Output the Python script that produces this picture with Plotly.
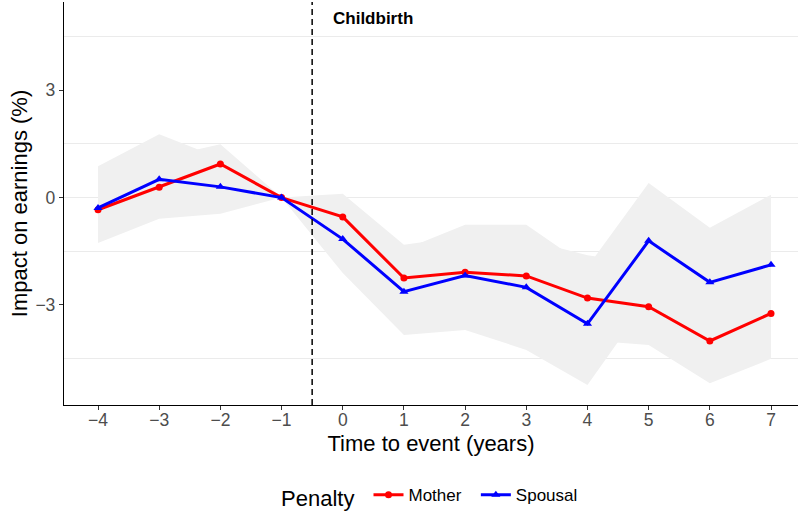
import plotly.graph_objects as go

years = [-4, -3, -2, -1, 0, 1, 2, 3, 4, 5, 6, 7]
mother = [-0.34, 0.29, 0.94, 0, -0.54, -2.25, -2.09, -2.19, -2.81, -3.05, -4.01, -3.24]
spousal = [-0.29, 0.51, 0.30, 0, -1.16, -2.63, -2.18, -2.51, -3.53, -1.21, -2.37, -1.88]
mother_hi = [0.40, 1.11, 1.49, 0, 0.11, -1.32, -1.08, -1.17, -1.61, -1.86, -2.83, -1.93]
mother_lo = [-1.00, -0.50, 0.37, 0, -1.17, -3.17, -3.08, -3.21, -3.99, -4.12, -5.19, -4.51]
spousal_hi = [0.88, 1.77, 1.10, 0, -0.19, -1.45, -0.76, -0.76, -1.94, 0.41, -0.84, 0.08]
spousal_lo = [-1.27, -0.59, -0.45, 0, -2.11, -3.84, -3.70, -4.26, -5.24, -2.83, -3.92, -3.84]
y_ticks = [-3, 0, 3]
y_minor = [-4.5, -1.5, 1.5, 4.5]
event_x = -0.5
event_label = "Childbirth"
label_y = 5.0

FONT = "Liberation Sans, Arial, sans-serif"
RIBBON = "#F0F0F0"
GRID = "#EBEBEB"
TICK_SIZE = 17.5
TITLE_SIZE = 22

fig = go.Figure()
for lo, hi in [(spousal_lo, spousal_hi), (mother_lo, mother_hi)]:
    fig.add_trace(go.Scatter(
        x=years + years[::-1], y=hi + lo[::-1], fill="toself",
        fillcolor=RIBBON, line=dict(width=0), mode="lines",
        showlegend=False, hoverinfo="skip"))

fig.add_trace(go.Scatter(
    x=years, y=mother, mode="lines+markers", name="Mother\u00a0\u00a0",
    line=dict(color="#FF0000", width=3),
    marker=dict(symbol="circle", size=7, color="#FF0000")))
fig.add_trace(go.Scatter(
    x=years, y=spousal, mode="lines+markers", name="Spousal",
    line=dict(color="#0000FF", width=3),
    marker=dict(symbol="triangle-up", size=8, color="#0000FF")))

fig.add_shape(type="line", xref="x", yref="paper", x0=event_x, x1=event_x,
              y0=0, y1=1, line=dict(color="black", width=1.5, dash="6px,4px"))
fig.add_annotation(x=event_x, y=label_y, xref="x", yref="y", text="<b>%s</b>" % event_label,
                   showarrow=False, xanchor="left", yanchor="middle", xshift=19,
                   font=dict(family=FONT, size=17, color="black"))

fig.update_layout(
    width=798, height=512,
    margin=dict(l=64, r=0, t=2, b=107, autoexpand=False),
    paper_bgcolor="white", plot_bgcolor="white",
    font=dict(family=FONT, color="black"),
    showlegend=True,
    legend=dict(orientation="h", x=0.5, xanchor="center", yref="container",
                y=0.03, yanchor="middle",
                title=dict(text="Penalty ", font=dict(size=TITLE_SIZE, color="black")),
                font=dict(size=17, color="black")),
    xaxis=dict(range=[-4.556, 7.441], tickvals=years, showgrid=False, zeroline=False,
               automargin=False,
               showline=True, linecolor="black", linewidth=1.3,
               ticks="outside", ticklen=4, tickcolor="#333333",
               ticklabelstandoff=-5,
               tickfont=dict(size=TICK_SIZE, color="#4D4D4D"),
               title=dict(text="Time to event (years)", font=dict(size=TITLE_SIZE, color="black"), standoff=6)),
    yaxis=dict(range=[-5.80, 5.47], tickvals=y_ticks, showgrid=False,
               automargin=False,
               zeroline=True, zerolinecolor=GRID, zerolinewidth=1,
               showline=True, linecolor="black", linewidth=1.3,
               ticks="outside", ticklen=4, tickcolor="#333333",
               tickfont=dict(size=TICK_SIZE, color="#4D4D4D"),
               minor=dict(tickvals=y_minor, showgrid=True, gridcolor=GRID, gridwidth=1, ticks=""),
               title=dict(text="Impact on earnings (%)", font=dict(size=TITLE_SIZE, color="black"), standoff=1)),
)

fig.write_html("out.html", config={"displayModeBar": False},
               post_script="document.body.style.margin='0';document.body.style.overflow='hidden';")
